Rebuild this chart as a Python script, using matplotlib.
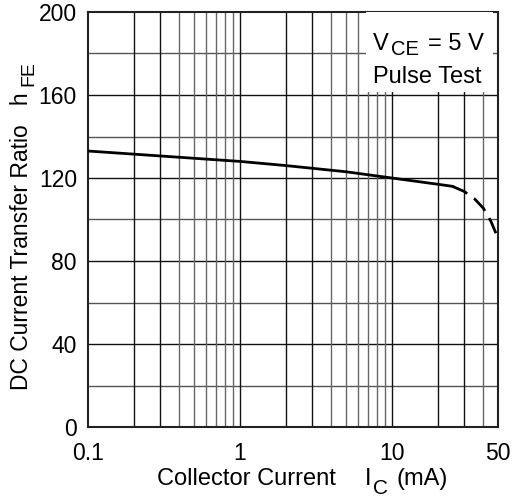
import matplotlib.pyplot as plt
from matplotlib.patches import Rectangle

plt.rcParams['font.family'] = ['Liberation Sans', 'DejaVu Sans']

# hFE vs Ic (solid part and dashed extrapolation)
ic_solid = [0.1, 0.2, 0.5, 1, 2, 5, 10, 20, 25]
hfe_solid = [133, 131.5, 129.5, 128, 126, 123, 120, 117, 116]
ic_dash = [25, 30, 35, 40, 45, 50]
hfe_dash = [116, 113.5, 110, 105.5, 99, 91]

yticks = [0, 40, 80, 120, 160, 200]
xticks = [0.1, 1, 10, 50]
xlabels = ['0.1', '1', '10', '50']

W, H = 531, 497
fig = plt.figure(figsize=(W / 100, H / 100), dpi=100)
ax = fig.add_axes([88 / W, 1 - 427 / H, 410 / W, 415 / H])


def px_text(x, y, s, size, **kw):
    # text placed by pixel position (left edge, baseline) from top-left corner
    return fig.text(x / W, 1 - y / H, s, fontsize=size, ha='left', va='baseline', **kw)


ax.set_xscale('log')
ax.set_xlim(0.1, 50)
ax.set_ylim(0, 200)

# grid
for v in range(20, 200, 20):
    c = '#111111' if v % 40 == 0 else '#555555'
    ax.axhline(v, color=c, lw=1.0, zorder=1)
for dec in [0.1, 1, 10]:
    for m in range(1, 10):
        x = dec * m
        if 0.1 < x < 50:
            c = '#111111' if m in (1, 2, 3) else '#666666'
            ax.axvline(x, color=c, lw=1.0, zorder=1)

ax.plot(ic_solid, hfe_solid, color='black', lw=2, zorder=3)
ax.plot(ic_dash, hfe_dash, color='black', lw=2, ls=(0, (6, 3)), zorder=3)

ax.set_yticks(yticks)
ax.set_yticklabels([str(v) for v in yticks], fontsize=16.5)
ax.set_xticks(xticks)
ax.set_xticklabels(xlabels, fontsize=16.5)
ax.minorticks_off()
ax.tick_params(axis='y', length=0, pad=8)
ax.tick_params(axis='x', length=0, pad=11)
for s in ax.spines.values():
    s.set_linewidth(1.5)
    s.set_color('#222222')

# condition box
ax.add_patch(Rectangle((0.678, 0.807), 0.31, 0.193, transform=ax.transAxes,
                       facecolor='white', edgecolor='none', zorder=4))
px_text(373, 50, 'V', 17)
px_text(391, 55, 'CE', 14.5)
px_text(428, 50, '= 5 V', 17)
px_text(373, 83, 'Pulse Test', 17)

# x label
px_text(157, 485, 'Collector Current', 17)
px_text(365, 485, 'I', 17)
px_text(373, 494, 'C', 15)
px_text(397, 485, '(mA)', 17)

# y label
fig.text(28 / W, 1 - 390 / H, 'DC Current Transfer Ratio   h', fontsize=16.5,
         rotation=90, rotation_mode='anchor', ha='left', va='baseline')
fig.text(33 / W, 1 - 86 / H, 'FE', fontsize=14,
         rotation=90, rotation_mode='anchor', ha='left', va='baseline')

fig.savefig('out.png', dpi=100)
